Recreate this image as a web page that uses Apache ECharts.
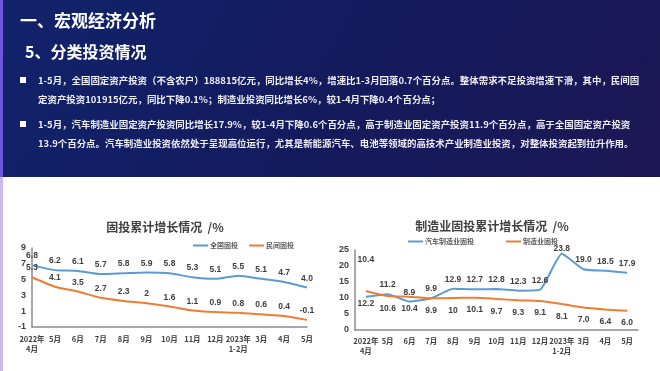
<!DOCTYPE html>
<html>
<head>
<meta charset="utf-8">
<script src="https://cdn.jsdelivr.net/npm/echarts@6/dist/echarts.min.js"></script>
<style>
html,body{margin:0;padding:0;background:#101d60;}
#c{width:660px;height:371px;}
</style>
</head>
<body>
<div id="c"></div>
<script>
// ---- data ----
const categories = ['2022年\n4月','5月','6月','7月','8月','9月','10月','11月','12月','2023年\n1-2月','3月','4月','5月'];
const nationalFAI = ['6.8','6.2','6.1','5.7','5.8','5.9','5.8','5.3','5.1','5.5','5.1','4.7','4.0'];
const privateFAI  = ['5.3','4.1','3.5','2.7','2.3','2','1.6','1.1','0.9','0.8','0.6','0.4','-0.1'];
const autoMfgFAI  = ['10.4','11.2','8.9','9.9','12.9','12.7','12.8','12.3','12.6','23.8','19.0','18.5','17.9'];
const mfgFAI      = ['12.2','10.6','10.4','9.9','10','10.1','9.7','9.3','9.1','8.1','7.0','6.4','6.0'];
const leftTicks  = {min:-1, max:9, interval:2};
const rightTicks = {min:0, max:25, interval:5};

const heading1 = '一、宏观经济分析';
const heading2 = '5、分类投资情况';
const bodyLines = [
  '1-5月，全国固定资产投资（不含农户）188815亿元，同比增长4%，增速比1-3月回落0.7个百分点。整体需求不足投资增速下滑，其中，民间固',
  '定资产投资101915亿元，同比下降0.1%；制造业投资同比增长6%，较1-4月下降0.4个百分点；',
  '1-5月，汽车制造业固定资产投资同比增长17.9%，较1-4月下降0.6个百分点，高于制造业固定资产投资11.9个百分点，高于全国固定资产投资',
  '13.9个百分点。汽车制造业投资依然处于呈现高位运行，尤其是新能源汽车、电池等领域的高技术产业制造业投资，对整体投资起到拉升作用。'
];
const leftTitle = '固投累计增长情况  /%';
const rightTitle = '制造业固投累计增长情况  /%';

// ---- styles ----
const BLUE = '#5b9bd5', ORANGE = '#ed7d31';
const FONT = "'Liberation Sans','Noto Sans CJK SC',sans-serif";
const CJK = "'Noto Sans CJK SC','Liberation Sans',sans-serif";
const axisGray = '#8c8c8c';
const txt = '#404040';

const chart = echarts.init(document.getElementById('c'), null, {renderer:'canvas'});

function xAxisDef(gi, bgap, margin){
  return {
    type:'category', gridIndex:gi, data:categories, boundaryGap:bgap,
    axisLine:{show:true, onZero:false, lineStyle:{color:axisGray, width:1.5}},
    axisTick:{show:false},
    axisLabel:{interval:0, fontSize:7.5, fontWeight:'bold', color:txt, fontFamily:CJK, lineHeight:10, margin:margin},
    splitLine:{show:false}
  };
}
function yAxisDef(gi, t){
  return {
    type:'value', gridIndex:gi, min:t.min, max:t.max, interval:t.interval,
    axisLine:{show:true, lineStyle:{color:axisGray, width:1.5}},
    axisTick:{show:false},
    axisLabel:{fontSize:9, fontWeight:'bold', color:txt, fontFamily:FONT, margin:6},
    splitLine:{show:false}
  };
}
function lbl(arr, pos, dist){
  return {show:true, position:pos, distance:dist, fontSize:8.5, fontWeight:'bold', color:txt, fontFamily:FONT,
    formatter:p=>arr[p.dataIndex]};
}
function toData(arr){ return arr.map(v=>Number(v)); }

const autoLabelOffsets = {0:[0,-28], 9:[0,4]};
const autoData = toData(autoMfgFAI).map((v,i)=> autoLabelOffsets[i] ? {value:v, label:{offset:autoLabelOffsets[i]}} : v);

const graphics = [
  {type:'rect', shape:{x:0,y:0,width:660,height:371}, style:{fill:new echarts.graphic.LinearGradient(0,0,1,1,[
    {offset:0,color:'#12236c'},{offset:0.45,color:'#131b5c'},{offset:1,color:'#211552'}])}, silent:true, z:-10},
  {type:'rect', shape:{x:3,y:177,width:657,height:194}, style:{fill:'#ffffff'}, silent:true, z:-9},
  {type:'rect', shape:{x:0,y:0,width:3,height:177}, style:{fill:'#6a58d4'}, silent:true, z:-8},
  {type:'rect', shape:{x:0,y:177,width:3,height:194}, style:{fill:'#cbb9e8'}, silent:true, z:-8},
  {type:'text', x:20, y:21, style:{text:heading1, fill:'#ffffff', font:"bold 17px 'Noto Sans CJK SC'", verticalAlign:'middle'}},
  {type:'text', x:25, y:52, style:{text:heading2, fill:'#ffffff', font:"bold 16px 'Noto Sans CJK SC'", verticalAlign:'middle'}},
  {type:'rect', shape:{x:20,y:77,width:6,height:6}, style:{fill:'#ffffff'}},
  {type:'rect', shape:{x:20,y:121,width:6,height:6}, style:{fill:'#ffffff'}},
  {type:'text', x:165, y:227, style:{text:leftTitle, fill:'#404040', font:"bold 12px 'Noto Sans CJK SC'", align:'center', verticalAlign:'middle'}},
  {type:'text', x:492, y:226, style:{text:rightTitle, fill:'#404040', font:"bold 12px 'Noto Sans CJK SC'", align:'center', verticalAlign:'middle'}}
];
const lineYs = [80, 99, 124, 143];
bodyLines.forEach((t,i)=>{
  graphics.push({type:'text', x:38, y:lineYs[i], style:{text:t, fill:'#eeeef6', font:"bold 9.45px 'Noto Sans CJK SC'", verticalAlign:'middle'}});
});

const symbolOpts = {symbol:'circle', symbolSize:0, showSymbol:true, showAllSymbol:true};
const legendText = {fontSize:7, fontWeight:'bold', color:'#595959', fontFamily:CJK, padding:[0,0,0,-3]};

const option = {
  animation:false,
  graphic:graphics,
  grid:[
    {left:32, right:353, top:248, bottom:44},
    {left:355, right:22, top:250, bottom:41}
  ],
  legend:[
    {data:['全国固投','民间固投'], left:193, top:242, padding:0, itemWidth:15, itemHeight:2, itemGap:11, icon:'rect', textStyle:legendText},
    {data:['汽车制造业固投','制造业固投'], left:408, top:238, padding:0, itemWidth:15, itemHeight:2, itemGap:32, icon:'rect', textStyle:legendText}
  ],
  xAxis:[xAxisDef(0,false,7), xAxisDef(1,true,6)],
  yAxis:[yAxisDef(0,leftTicks), yAxisDef(1,rightTicks)],
  series:[
    Object.assign({name:'全国固投', type:'line', xAxisIndex:0, yAxisIndex:0, data:toData(nationalFAI), smooth:0.2,
     lineStyle:{color:BLUE, width:2}, itemStyle:{color:BLUE}, label:lbl(nationalFAI,'top',5)}, symbolOpts),
    Object.assign({name:'民间固投', type:'line', xAxisIndex:0, yAxisIndex:0, data:toData(privateFAI), smooth:0.2,
     lineStyle:{color:ORANGE, width:2}, itemStyle:{color:ORANGE}, label:lbl(privateFAI,'top',5)}, symbolOpts),
    Object.assign({name:'汽车制造业固投', type:'line', xAxisIndex:1, yAxisIndex:1, data:autoData, smooth:0.15,
     lineStyle:{color:BLUE, width:2}, itemStyle:{color:BLUE}, label:lbl(autoMfgFAI,'top',5)}, symbolOpts),
    Object.assign({name:'制造业固投', type:'line', xAxisIndex:1, yAxisIndex:1, data:toData(mfgFAI), smooth:0.2,
     lineStyle:{color:ORANGE, width:2}, itemStyle:{color:ORANGE}, label:lbl(mfgFAI,'bottom',8)}, symbolOpts)
  ]
};
chart.setOption(option);
</script>
</body>
</html>
